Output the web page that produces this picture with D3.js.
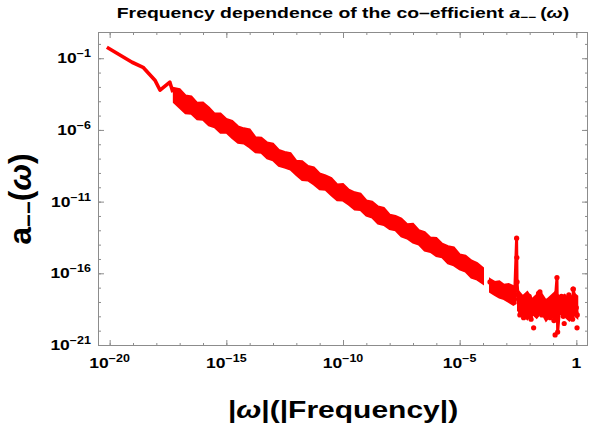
<!DOCTYPE html>
<html>
<head>
<meta charset="utf-8">
<script src="https://cdn.jsdelivr.net/npm/d3@7"></script>
<style>
  body { margin: 0; background: #fff; }
  text { font-family: "Liberation Sans", Arial, sans-serif; font-weight: bold; fill: #000; }
</style>
</head>
<body>
<div id="chart"></div>
<script>
// values are log10 of |omega| and of a--(omega)

// first smooth stretch at the lowest frequencies
var earlyW = [-20.12, -19.04, -18.57, -18.06, -17.84, -17.42, -17.29];
var earlyA = [-0.23, -1.28, -1.63, -2.53, -3.23, -2.67, -3.37];

// the long noisy band: upper and lower edge of the scatter
var bandW = [-17.25, -17.0, -16.75, -16.5, -16.25, -16.0, -15.75, -15.5, -15.25, -15.0,
  -14.75, -14.5, -14.25, -14.0, -13.75, -13.5, -13.25, -13.0, -12.75, -12.5,
  -12.25, -12.0, -11.75, -11.5, -11.25, -11.0, -10.75, -10.5, -10.25, -10.0,
  -9.75, -9.5, -9.25, -9.0, -8.75, -8.5, -8.25, -8.0, -7.75, -7.5,
  -7.25, -7.0, -6.75, -6.5, -6.25, -6.0, -5.75, -5.5, -5.25, -5.0,
  -4.75, -4.5, -4.25, -4.0];
var bandHi = [-3.07, -3.15, -3.59, -3.67, -4.11, -4.09, -4.43, -4.86, -4.85, -5.23,
  -5.37, -5.75, -5.89, -5.97, -6.51, -6.54, -6.88, -6.96, -7.40, -7.53,
  -7.62, -8.15, -8.19, -8.52, -8.61, -9.04, -9.18, -9.36, -9.80, -9.78,
  -10.17, -10.35, -10.44, -10.92, -11.01, -11.34, -11.43, -11.91, -12.00, -12.18,
  -12.57, -12.55, -12.99, -13.12, -13.51, -13.54, -13.93, -14.11, -14.20, -14.68,
  -14.77, -15.10, -15.29, -15.62];
var bandLo = [-4.07, -4.45, -4.84, -4.87, -5.26, -5.29, -5.68, -5.81, -6.20, -6.18,
  -6.57, -6.90, -6.94, -7.22, -7.56, -7.59, -7.98, -8.11, -8.50, -8.63,
  -8.77, -9.15, -9.49, -9.52, -9.81, -10.14, -10.18, -10.56, -10.90, -10.93,
  -11.22, -11.55, -11.59, -11.97, -12.11, -12.54, -12.63, -12.91, -13.00, -13.43,
  -13.57, -13.85, -13.99, -14.42, -14.51, -14.79, -14.88, -15.31, -15.45, -15.73,
  -15.87, -16.30, -16.44, -16.72];

// short piece after the gap
var segW = [-3.7, -3.5, -3.3, -3.1, -2.9, -2.7, -2.6];
var segHi = [-16.4, -16.6, -16.55, -16.8, -16.75, -16.9, -17.0];
var segLo = [-17.3, -17.5, -17.7, -17.8, -18.0, -18.2, -18.1];

// flat noise floor near |omega| ~ 1
var flatW = [-2.5, -2.3, -2.1, -1.9, -1.7, -1.5, -1.3, -1.1, -0.9, -0.7, -0.5, -0.3, -0.1, 0.04];
var flatHi = [-17.2, -17.6, -17.3, -17.8, -17.5, -17.4, -17.9, -17.6, -17.3, -17.7, -17.5, -17.8, -17.4, -17.6];
var flatLo = [-18.6, -18.9, -19.2, -18.8, -19.1, -18.7, -19.3, -18.9, -19.2, -18.8, -19.0, -19.3, -18.9, -19.1];

// joined points after the gap: spike and scatter
var tailW = [-3.7, -3.55, -3.4, -3.25, -3.1, -2.95, -2.8, -2.65, -2.56, -2.55, -2.54, -2.50,
  -2.42, -2.34, -2.26, -2.18, -2.10, -2.02, -1.94, -1.86, -1.74, -1.66, -1.56, -1.48,
  -1.40, -1.28, -1.20, -1.12, -1.04, -0.96, -0.90, -0.83, -0.80, -0.72, -0.64, -0.56,
  -0.40, -0.32, -0.24, -0.16, -0.13, 0.00, 0.04];
var tailA = [-16.6, -17.2, -16.8, -17.45, -17.0, -17.6, -17.2, -17.8, -13.55, -14.9, -16.6, -17.5,
  -18.9, -17.9, -19.1, -18.0, -18.8, -17.6, -19.2, -18.2, -18.4, -17.7, -17.3, -18.9,
  -18.1, -18.6, -17.9, -19.1, -18.3, -19.3, -17.8, -16.3, -20.1, -18.5, -17.6, -19.0,
  -18.2, -17.5, -18.8, -19.2, -17.1, -18.4, -18.9];

// loose points in the noise floor
var dotW = [-1.83, -1.62, -0.91, -0.52, -0.14, 0.03];
var dotA = [-19.8, -17.4, -20.3, -19.5, -17.1, -19.8];

// tick labels (exponents of ten)
var xTickExp = [-20, -15, -10, -5, 0];
var yTickExp = [-1, -6, -11, -16, -21];

var W = 595, H = 428;
var pLeft = 98, pRight = 588, pTop = 32, pBottom = 346;
var red = "#ff0000";
var frameColor = "#8c8c8c";

var svg = d3.select("#chart").append("svg")
  .attr("width", W)
  .attr("height", H);

var x = d3.scaleLog().domain([Math.pow(10, -20.5), Math.pow(10, 0.5)]).range([pLeft, pRight]);
var y = d3.scaleLog().domain([Math.pow(10, -21.07), Math.pow(10, 0.83)]).range([pBottom, pTop]);

function p10(v) { return Math.pow(10, v); }

function pts(ws, as) {
  return ws.map(function(w, i) { return [p10(w), p10(as[i])]; });
}

function envelope(ws, hi, lo) {
  return ws.map(function(w, i) { return { w: p10(w), hi: p10(hi[i]), lo: p10(lo[i]) }; });
}

var line = d3.line()
  .x(function(d) { return x(d[0]); })
  .y(function(d) { return y(d[1]); });

var area = d3.area()
  .x(function(d) { return x(d.w); })
  .y0(function(d) { return y(d.lo); })
  .y1(function(d) { return y(d.hi); });

// data
var plot = svg.append("g");

plot.append("path")
  .attr("d", line(pts(earlyW, earlyA)))
  .attr("fill", "none")
  .attr("stroke", red)
  .attr("stroke-width", 3.6)
  .attr("stroke-linejoin", "round");

[envelope(bandW, bandHi, bandLo), envelope(segW, segHi, segLo), envelope(flatW, flatHi, flatLo)]
  .forEach(function(env) {
    plot.append("path")
      .attr("d", area(env))
      .attr("fill", red)
      .attr("stroke", red)
      .attr("stroke-width", 2)
      .attr("stroke-linejoin", "miter");
  });

var tail = pts(tailW, tailA);
plot.append("path")
  .attr("d", line(tail))
  .attr("fill", "none")
  .attr("stroke", red)
  .attr("stroke-width", 3)
  .attr("stroke-linejoin", "round");

plot.selectAll(".dot")
  .data(tail.concat(pts(dotW, dotA)))
  .enter().append("circle")
  .attr("class", "dot")
  .attr("cx", function(d) { return x(d[0]); })
  .attr("cy", function(d) { return y(d[1]); })
  .attr("r", 2.6)
  .attr("fill", red);

// frame and ticks
var xMinor = d3.range(-20, 1).map(p10);
var yMinor = d3.range(-21, 1).map(p10);
var xMajor = xTickExp.map(p10);
var yMajor = yTickExp.map(p10);

function tickGroup(axis, values, size, transform) {
  var g = svg.append("g")
    .attr("transform", transform)
    .call(axis.tickValues(values).tickSize(size).tickFormat(""));
  g.select(".domain").remove();
  g.selectAll("line").attr("stroke", frameColor);
}

tickGroup(d3.axisBottom(x), xMinor, -3, "translate(0," + pBottom + ")");
tickGroup(d3.axisBottom(x), xMajor, -6, "translate(0," + pBottom + ")");
tickGroup(d3.axisTop(x), xMinor, -3, "translate(0," + pTop + ")");
tickGroup(d3.axisTop(x), xMajor, -6, "translate(0," + pTop + ")");
tickGroup(d3.axisLeft(y), yMinor, -3, "translate(" + pLeft + ",0)");
tickGroup(d3.axisLeft(y), yMajor, -6, "translate(" + pLeft + ",0)");
tickGroup(d3.axisRight(y), yMinor, -3, "translate(" + pRight + ",0)");
tickGroup(d3.axisRight(y), yMajor, -6, "translate(" + pRight + ",0)");

svg.append("rect")
  .attr("x", pLeft + 0.5)
  .attr("y", pTop + 0.5)
  .attr("width", pRight - pLeft - 1)
  .attr("height", pBottom - pTop - 1)
  .attr("fill", "none")
  .attr("stroke", frameColor)
  .attr("stroke-width", 1);

// tick labels: 10 with a raised exponent
function powerLabel(text, e) {
  if (e === 0) { text.append("tspan").text("1"); return; }
  text.append("tspan").text("10");
  text.append("tspan").attr("font-size", 10).attr("dy", -6).text("\u2212" + Math.abs(e));
}

xTickExp.forEach(function(e) {
  var t = svg.append("g")
    .attr("transform", "translate(" + x(p10(e)) + ",368) scale(1.25,1)")
    .append("text")
    .attr("text-anchor", "middle")
    .attr("font-size", 14);
  powerLabel(t, e);
});

yTickExp.forEach(function(e) {
  var t = svg.append("g")
    .attr("transform", "translate(91," + (y(p10(e)) + 5) + ") scale(1.25,1)")
    .append("text")
    .attr("text-anchor", "end")
    .attr("font-size", 14);
  powerLabel(t, e);
});

// title
var title = svg.append("g")
  .attr("transform", "translate(" + ((pLeft + pRight) / 2) + ",18) scale(1.25,1)")
  .append("text")
  .attr("text-anchor", "middle")
  .attr("font-size", 15.5);
title.append("tspan").text("Frequency dependence of the co\u2013efficient ");
title.append("tspan").style("font-style", "italic").text("a");
title.append("tspan").attr("font-size", 11).attr("dy", 3).text("\u2212\u2212");
title.append("tspan").attr("dy", -3).text("\u2009(");
title.append("tspan").style("font-style", "italic").text("\u03c9");
title.append("tspan").text(")");

// axis labels
var xl = svg.append("g")
  .attr("transform", "translate(" + ((pLeft + pRight) / 2) + ",418) scale(1.25,1)")
  .append("text")
  .attr("text-anchor", "middle")
  .attr("font-size", 24);
xl.append("tspan").text("|");
xl.append("tspan").style("font-style", "italic").text("\u03c9");
xl.append("tspan").text("|(|Frequency|)");

var yl = svg.append("g")
  .attr("transform", "translate(31," + ((pTop + pBottom) / 2 + 10) + ") rotate(-90)")
  .append("text")
  .attr("text-anchor", "middle")
  .attr("font-size", 32);
yl.append("tspan").text("a");
yl.append("tspan").attr("font-size", 22).attr("dy", 5).text("\u2212\u2212");
yl.append("tspan").attr("dy", -5).text("(");
yl.append("tspan").style("font-style", "italic").text("\u03c9");
yl.append("tspan").text(")");
</script>
</body>
</html>
